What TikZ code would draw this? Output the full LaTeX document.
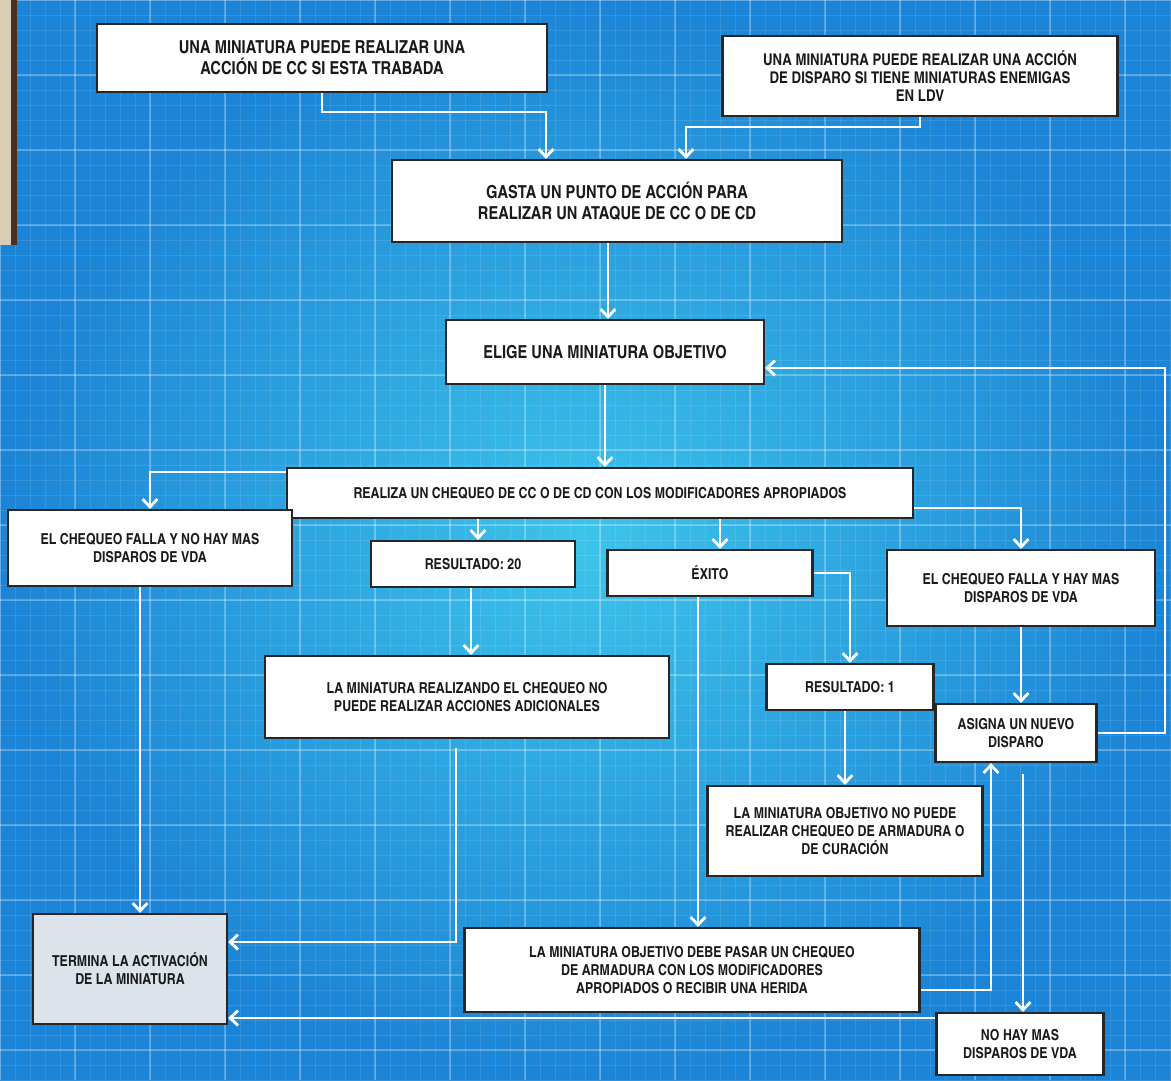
\documentclass[tikz,border=0pt]{standalone}
\usepackage{fontspec}
\setmainfont{texgyreheroscn-bold}[Extension=.otf]
\usetikzlibrary{arrows.meta}

\definecolor{bpEdge}{HTML}{1C84D6}
\definecolor{bpCentre}{HTML}{3DC4EA}
\definecolor{termFill}{HTML}{DDE3EA}
\definecolor{inkText}{HTML}{1A1A1A}
\definecolor{deskTan}{HTML}{D9CDB8}
\definecolor{deskDark}{HTML}{4A2F24}

\begin{document}
\begin{tikzpicture}[
    x=0.02cm, y=-0.02cm,
    every node/.style={font=\fontsize{8.6}{10.2}\selectfont, text=inkText},
    bigtxt/.style={font=\fontsize{10.2}{11.8}\selectfont},
    midtxt/.style={font=\fontsize{9.2}{10.2}\selectfont},
    rulebox/.style={draw=black!85, fill=white, line width=1.2pt, align=center, inner sep=2pt},
    sz/.style 2 args={minimum width=#1*0.02cm, minimum height=#2*0.02cm},
    flow/.style={draw=white, line width=1.6pt, -{Straight Barb[length=4.5pt,width=8.5pt]}},
]

% === Blueprint sheet ===
\useasboundingbox (0,0) rectangle (1171,1080);
\shade[inner color=bpCentre, outer color=bpEdge] (0,0) rectangle (1171,1080);
\foreach \gx in {0,15,...,1170} {
    \draw[white, opacity=0.10, line width=0.4pt] (\gx,0) -- (\gx,1080);
}
\foreach \gy in {0,15,...,1080} {
    \draw[white, opacity=0.10, line width=0.4pt] (0,\gy) -- (1171,\gy);
}
\foreach \gx in {0,75,...,1170} {
    \draw[white, opacity=0.25, line width=0.8pt] (\gx,0) -- (\gx,1080);
}
\foreach \gy in {0,75,...,1080} {
    \draw[white, opacity=0.25, line width=0.8pt] (0,\gy) -- (1171,\gy);
}
% desk edge on the left
\fill[deskTan] (0,0) rectangle (11,245);
\fill[deskDark] (11,0) rectangle (17,245);

% === Boxes ===
\node[rulebox, bigtxt, sz={450}{68}] (miniCC) at (322,58)
    {UNA MINIATURA PUEDE REALIZAR UNA\\ACCIÓN DE CC SI ESTA TRABADA};
\node[rulebox, midtxt, sz={395}{80}] (miniCD) at (920,76)
    {UNA MINIATURA PUEDE REALIZAR UNA ACCIÓN\\DE DISPARO SI TIENE MINIATURAS ENEMIGAS\\EN LDV};
\node[rulebox, bigtxt, sz={450}{82}] (gasta) at (617,201)
    {GASTA UN PUNTO DE ACCIÓN PARA\\REALIZAR UN ATAQUE DE CC O DE CD};
\node[rulebox, bigtxt, sz={318}{64}] (elige) at (605,352)
    {ELIGE UNA MINIATURA OBJETIVO};
\node[rulebox, sz={626}{50}] (chequeo) at (600,493)
    {REALIZA UN CHEQUEO DE CC O DE CD CON LOS MODIFICADORES APROPIADOS};
\node[rulebox, sz={284}{76}] (fallaNo) at (150,548)
    {EL CHEQUEO FALLA Y NO HAY MAS\\DISPAROS DE VDA};
\node[rulebox, sz={204}{46}] (res20) at (473,564) {RESULTADO: 20};
\node[rulebox, sz={205}{46}] (exito) at (710,573) {ÉXITO};
\node[rulebox, sz={268}{76}] (fallaSi) at (1021,588)
    {EL CHEQUEO FALLA Y HAY MAS\\DISPAROS DE VDA};
\node[rulebox, sz={404}{82}] (sinAcc) at (467,697)
    {LA MINIATURA REALIZANDO EL CHEQUEO NO\\PUEDE REALIZAR ACCIONES ADICIONALES};
\node[rulebox, sz={167}{46}] (res1) at (850,687) {RESULTADO: 1};
\node[rulebox, sz={161}{58}] (asigna) at (1016,733)
    {ASIGNA UN NUEVO\\DISPARO};
\node[rulebox, sz={275}{90}] (noArm) at (845,831)
    {LA MINIATURA OBJETIVO NO PUEDE\\REALIZAR CHEQUEO DE ARMADURA O\\DE CURACIÓN};
\node[rulebox, fill=termFill, sz={194}{110}] (termina) at (130,969)
    {TERMINA LA ACTIVACIÓN\\DE LA MINIATURA};
\node[rulebox, sz={455}{84}] (armadura) at (692,970)
    {LA MINIATURA OBJETIVO DEBE PASAR UN CHEQUEO\\DE ARMADURA CON LOS MODIFICADORES\\APROPIADOS O RECIBIR UNA HERIDA};
\node[rulebox, sz={167}{62}] (noMas) at (1020,1044)
    {NO HAY MAS\\DISPAROS DE VDA};

% === Bend points and drop lines ===
\coordinate (bCC) at (546,112);
\coordinate (bCD) at (686,127);
\coordinate (xGE) at (608,0);
\coordinate (bLoop) at (1165,368);
\coordinate (bFn) at (148,472);
\coordinate (x20) at (478,0);
\coordinate (xEx) at (720,0);
\coordinate (bFs) at (1021,508);
\coordinate (xFn) at (140,0);
\coordinate (x20b) at (471,0);
\coordinate (bSa) at (456,942);
\coordinate (xExb) at (698,0);
\coordinate (xR1) at (845,0);
\coordinate (bAr) at (991,990);
\coordinate (xNm) at (1023,0);
\coordinate (bNm) at (0,1018);

% === Connectors ===
\draw[flow] (miniCC.south) |- (bCC) -- (bCC |- gasta.north);
\draw[flow] (miniCD.south) |- (bCD) -- (bCD |- gasta.north);
\draw[flow] (xGE |- gasta.south) -- (xGE |- elige.north);
\draw[flow] (asigna.east) -| (bLoop) -- (bLoop -| elige.east);
\draw[flow] (elige.south) -- (elige.south |- chequeo.north);

\draw[flow] (bFn -| chequeo.west) -| (fallaNo.north);
\draw[flow] (x20 |- chequeo.south) -- (x20 |- res20.north);
\draw[flow] (xEx |- chequeo.south) -- (xEx |- exito.north);
\draw[flow] (bFs -| chequeo.east) -| (fallaSi.north);

\draw[flow] (xFn |- fallaNo.south) -- (xFn |- termina.north);
\draw[flow] (x20b |- res20.south) -- (x20b |- sinAcc.north);
\draw[flow] ([yshift=-5pt]bSa |- sinAcc.south) -- (bSa) -- (bSa -| termina.east);
\draw[flow] (xExb |- exito.south) -- (xExb |- armadura.north);
\draw[flow] (exito.east) -| (res1.north);
\draw[flow] (xR1 |- res1.south) -- (xR1 |- noArm.north);
\draw[flow] (fallaSi.south) -- (fallaSi.south |- asigna.north);

\draw[flow] (bAr -| armadura.east) -- (bAr) -- (bAr |- asigna.south);
\draw[flow] ([yshift=-6pt]xNm |- asigna.south) -- (xNm |- noMas.north);
\draw[flow] (bNm -| noMas.west) -- (bNm -| termina.east);

\end{tikzpicture}
\end{document}
